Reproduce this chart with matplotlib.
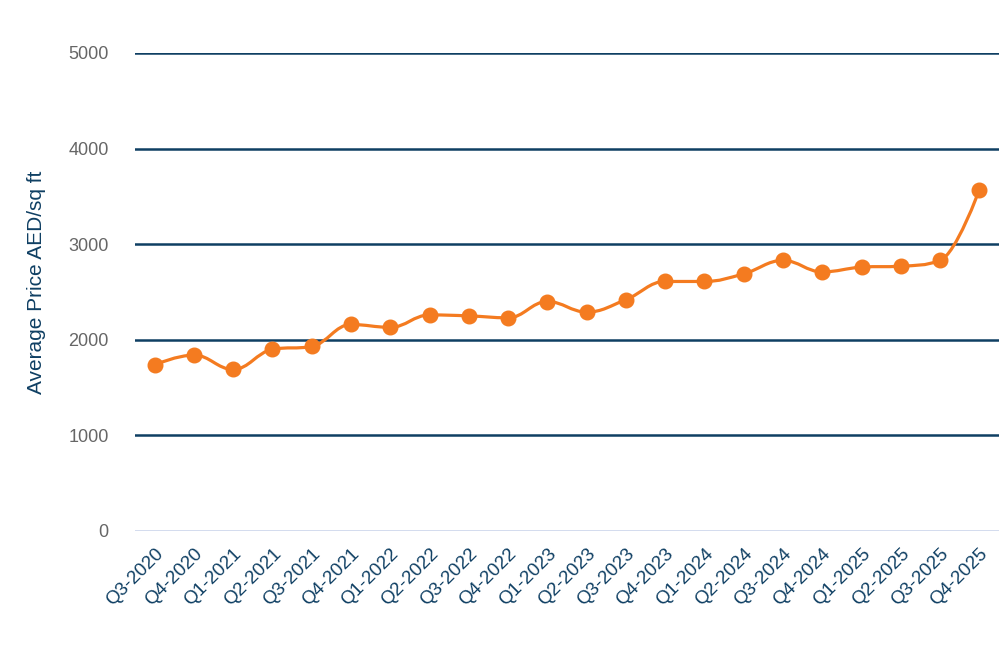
import numpy as np
import matplotlib.pyplot as plt
from matplotlib.path import Path
from matplotlib.patches import PathPatch

quarters = [
    "Q3-2020", "Q4-2020", "Q1-2021", "Q2-2021", "Q3-2021", "Q4-2021",
    "Q1-2022", "Q2-2022", "Q3-2022", "Q4-2022", "Q1-2023", "Q2-2023",
    "Q3-2023", "Q4-2023", "Q1-2024", "Q2-2024", "Q3-2024", "Q4-2024",
    "Q1-2025", "Q2-2025", "Q3-2025", "Q4-2025",
]
avg_price = [
    1740, 1840, 1690, 1900, 1930, 2160,
    2130, 2260, 2250, 2230, 2400, 2290,
    2420, 2610, 2610, 2690, 2830, 2710,
    2760, 2770, 2830, 3570,
]
y_ticks = [0, 1000, 2000, 3000, 4000, 5000]

ORANGE = "#f47b20"
NAVY = "#0f3f63"


def spline_path(xs, ys, smoothing=1.5):
    # smooth curve through the points, cubic bezier segments
    denom = smoothing + 1
    verts = [(xs[0], ys[0])]
    codes = [Path.MOVETO]
    right_prev = (xs[0], ys[0])
    n = len(xs)
    for i in range(1, n):
        x, y = xs[i], ys[i]
        lx, ly = xs[i - 1], ys[i - 1]
        if i < n - 1:
            nx, ny = xs[i + 1], ys[i + 1]
            lcx = (smoothing * x + lx) / denom
            lcy = (smoothing * y + ly) / denom
            rcx = (smoothing * x + nx) / denom
            rcy = (smoothing * y + ny) / denom
            corr = (rcy - lcy) * (rcx - x) / (rcx - lcx) + y - rcy
            lcy += corr
            rcy += corr
            if lcy > ly and lcy > y:
                lcy = max(ly, y)
                rcy = 2 * y - lcy
            elif lcy < ly and lcy < y:
                lcy = min(ly, y)
                rcy = 2 * y - lcy
            if rcy > ny and rcy > y:
                rcy = max(ny, y)
                lcy = 2 * y - rcy
            elif rcy < ny and rcy < y:
                rcy = min(ny, y)
                lcy = 2 * y - rcy
            left = (lcx, lcy)
            right = (rcx, rcy)
        else:
            left = (x, y)
            right = (x, y)
        verts += [right_prev, left, (x, y)]
        codes += [Path.CURVE4] * 3
        right_prev = right
    return Path(verts, codes)


plt.rcParams["font.family"] = ["Liberation Sans", "DejaVu Sans"]

fig = plt.figure(figsize=(10, 6.6), dpi=100)
ax = fig.add_axes([0.135, 0.1955, 0.864, 0.7242])

x = np.arange(len(quarters))
ax.add_patch(PathPatch(spline_path(x, avg_price), facecolor="none",
                       edgecolor=ORANGE, lw=2.3, zorder=3))
ax.plot(x, avg_price, "o", color=ORANGE, markersize=10.5, zorder=4)

ax.set_xlim(-0.5, len(quarters) - 0.5)
ax.set_ylim(0, 5000)
ax.set_yticks(y_ticks)
ax.set_yticklabels([str(v) for v in y_ticks], color="#666666", fontsize=13)
for v in y_ticks[1:]:
    ax.axhline(v, color=NAVY, lw=1.8, zorder=1)
ax.axhline(0, color="#ccd6eb", lw=1.2, zorder=1)

ax.set_xticks(x)
ax.set_xticklabels(quarters, rotation=45, ha="right", va="top",
                   rotation_mode="anchor", color=NAVY, fontsize=13.5)
ax.tick_params(axis="both", length=0)
ax.tick_params(axis="y", pad=19)
ax.tick_params(axis="x", pad=10)

for s in ax.spines.values():
    s.set_visible(False)

fig.text(0.037, 0.572, "Average Price AED/sq ft", rotation=90,
         color=NAVY, fontsize=15, ha="center", va="center")

fig.savefig("out.png", dpi=100)
